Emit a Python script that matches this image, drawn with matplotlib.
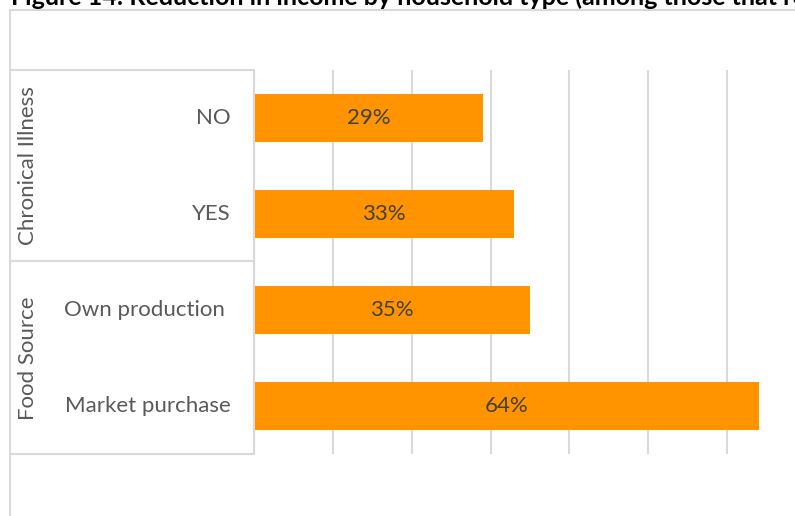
import matplotlib.pyplot as plt
from matplotlib.lines import Line2D

# Share of households reporting reduced income, by household type
groups = ["Chronical Illness", "Food Source"]
categories = ["NO", "YES", "Own production", "Market purchase"]
group_of = [0, 0, 1, 1]
values = [0.29, 0.33, 0.35, 0.64]

title = "Figure 14: Reduction in income by household type (among those that reported it)"

W, H = 795, 516
bar_color = "#ff9400"
line_color = "#d9d9d9"
text_color = "#595959"
font = "Lato"
fs = 16

fig = plt.figure(figsize=(W / 100, H / 100), dpi=100)


def fx(px):
    return px / W


def fy(py):
    return 1 - py / H


# plot area in pixel terms (the right edge runs past the figure)
left, right, top, bottom = 254, 806, 70, 454
ax = fig.add_axes([fx(left), fy(bottom), fx(right) - fx(left), fy(top) - fy(bottom)])

ypos = list(range(len(categories)))
ax.barh(ypos, values, height=0.5, color=bar_color, zorder=3)
for y, v in zip(ypos, values):
    ax.text(v / 2, y, f"{v:.0%}", ha="center", va="center",
            color="#404040", fontsize=fs, family=font, zorder=4)

ax.set_xlim(0, 0.7)
ax.set_ylim(len(categories) - 0.5, -0.5)
ax.set_xticks([i / 10 for i in range(8)])
ax.grid(axis="x", color=line_color, linewidth=1.5, zorder=0)
ax.tick_params(left=False, bottom=False, labelleft=False, labelbottom=False)
for s in ax.spines.values():
    s.set_visible(False)

# outer chart frame
fig.add_artist(Line2D([fx(10), fx(10)], [fy(10), 0], color=line_color, lw=1.5))
fig.add_artist(Line2D([fx(10), 1], [fy(10), fy(10)], color=line_color, lw=1.5))

# category table on the left
for py in [top, 261, bottom]:
    fig.add_artist(Line2D([fx(10), fx(left)], [fy(py), fy(py)], color=line_color, lw=1.5))
fig.add_artist(Line2D([fx(left), fx(left)], [fy(top), fy(bottom)], color=line_color, lw=1.5))

row_h = (bottom - top) / len(categories)
for i, cat in enumerate(categories):
    cy = top + row_h * (i + 0.5)
    fig.text(fx(231), fy(cy), cat + (" " if cat == "Own production" else ""),
             ha="right", va="center", color=text_color, fontsize=fs, family=font)

for g, name in enumerate(groups):
    rows = [i for i, k in enumerate(group_of) if k == g]
    cy = top + row_h * (rows[0] + rows[-1] + 1) / 2
    fig.text(fx(28), fy(cy), name, rotation=90, ha="center", va="center",
             color=text_color, fontsize=fs, family=font)

fig.text(fx(11), fy(5), title, ha="left", va="baseline", color="black",
         fontsize=18, fontweight="bold", family=font)

fig.savefig("out.png", dpi=100)
